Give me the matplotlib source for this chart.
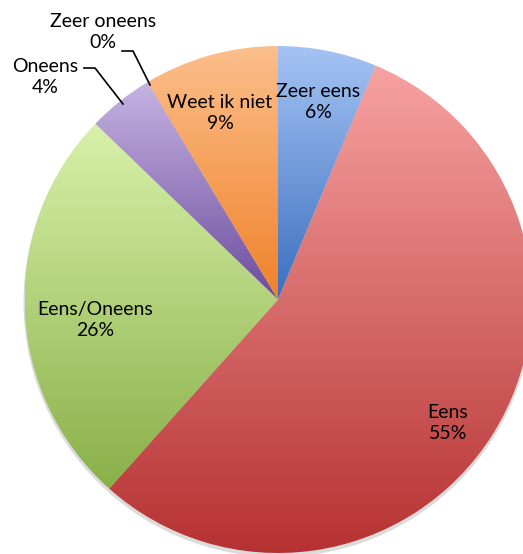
import numpy as np
import matplotlib
matplotlib.use("Agg")
import matplotlib.pyplot as plt
from matplotlib.colors import LinearSegmentedColormap
from matplotlib.patches import Circle

# data
categories = ["Zeer eens", "Eens", "Eens/Oneens", "Oneens", "Zeer oneens", "Weet ik niet"]
values = [6.3, 55.3, 25.6, 4.2, 0.0, 8.6]
pct_labels = ["6%", "55%", "26%", "4%", "0%", "9%"]

# gradient colours per slice (top -> bottom)
top_colors = ["#a6c4f4", "#f7a2a2", "#d8f1aa", "#c6b4e2", "#c6b4e2", "#fcbf8c"]
bot_colors = ["#3a6fbf", "#b63232", "#89b048", "#6c4c9e", "#6c4c9e", "#ef8229"]

# label positions in pixel coords (x, y from top)
label_pos = [(318, 102), (448, 423), (95, 320), (45, 77), (103, 32), (220, 113)]

W, H = 523, 554
fig = plt.figure(figsize=(W / 100, H / 100), dpi=100)
ax = fig.add_axes([0, 0, 1, 1])

cx, cy, r = 278, H - 299.5, 253.5

# faint shadow
ax.add_patch(Circle((cx, cy - 3), r + 1, color="#999999", alpha=0.35, zorder=0, lw=0))

wedges, _ = ax.pie(values, startangle=90, counterclock=False, center=(cx, cy),
                   radius=r, frame=True, wedgeprops=dict(linewidth=0))

for w, v, c1, c2 in zip(wedges, values, top_colors, bot_colors):
    w.set_facecolor("none")
    if v <= 0:
        continue
    ext = w.get_path().get_extents()
    cmap = LinearSegmentedColormap.from_list("g", [c2, c1])
    grad = np.linspace(0, 1, 256).reshape(-1, 1)
    im = ax.imshow(grad, cmap=cmap, origin="lower", aspect="auto",
                   extent=[ext.x0, ext.x1, ext.y0, ext.y1], zorder=1)
    im.set_clip_path(w)

font = dict(family=["Lato", "DejaVu Sans"], fontsize=14, color="black",
            ha="center", va="center", linespacing=1.3, zorder=5)
for name, pct, (x, y) in zip(categories, pct_labels, label_pos):
    ax.text(x, H - y, f"{name}\n{pct}", **font)

# leader lines
ax.plot([84, 95, 123], [H - 68, H - 68, H - 104], color="black", lw=1.2, zorder=4)
ax.plot([122, 133, 150], [H - 51, H - 51, H - 85], color="black", lw=1.2, zorder=4)

ax.set_xlim(0, W)
ax.set_ylim(0, H)
ax.axis("off")

fig.savefig("out.png", dpi=100)
